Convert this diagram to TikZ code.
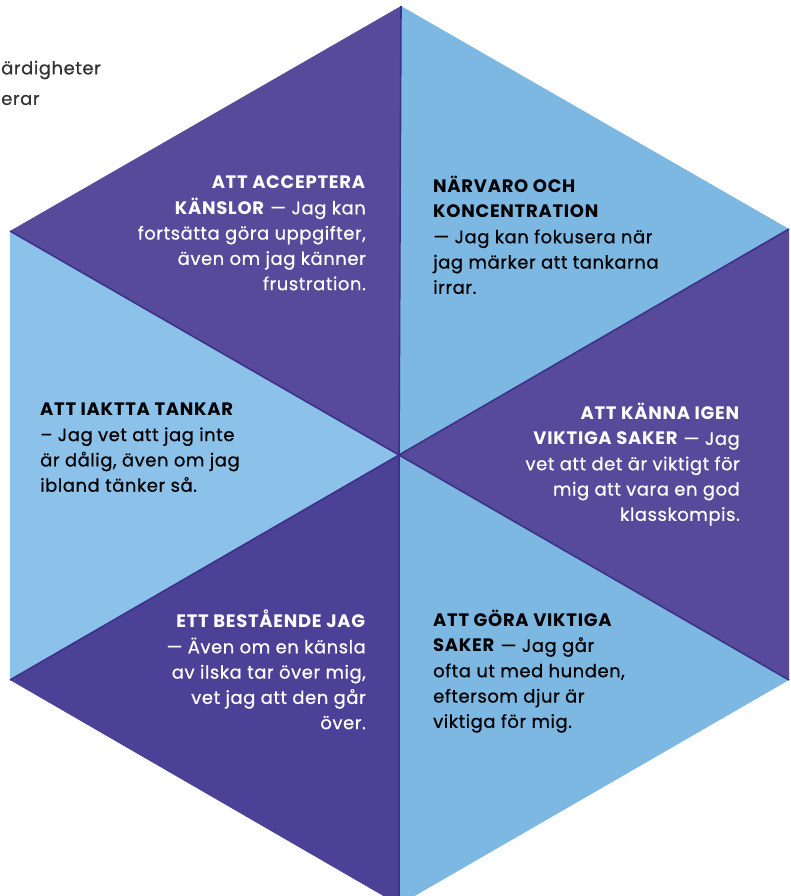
\documentclass[tikz,border=0pt]{standalone}
\usepackage{fontspec}
\setmainfont{Poppins}[UprightFeatures={FakeBold=0.6, LetterSpace=3}, BoldFeatures={LetterSpace=4}]
\definecolor{darkp}{HTML}{574A9A}
\definecolor{darkq}{HTML}{4B4196}
\definecolor{lightb}{HTML}{7DB8E3}
\definecolor{lightc}{HTML}{8CC2EA}
\definecolor{sepc}{HTML}{3B3388}
\definecolor{pagetext}{HTML}{333333}
\tikzset{
  sepline/.style={draw=sepc, line width=1.6pt},
  txt/.style={inner sep=0pt, font=\fontsize{18}{25.3}\selectfont},
  wtxt/.style={txt, text=white},
  btxt/.style={txt, text=black},
}
\begin{document}
\begin{tikzpicture}[x=1pt,y=-1pt]
\useasboundingbox (0,0) rectangle (791,896);
\coordinate (O) at (399,455);
\coordinate (T) at (401,6);
\coordinate (UR) at (789,229);
\coordinate (LR) at (789,680);
\coordinate (B) at (399,905);
\coordinate (LL) at (10,680);
\coordinate (UL) at (10,231);
% triangles
\fill[darkp] (O)--(T)--(UL)--cycle;
\fill[lightb] (O)--(T)--(UR)--cycle;
\fill[darkp] (O)--(UR)--(LR)--cycle;
\fill[lightb] (O)--(LR)--(B)--cycle;
\fill[darkq] (O)--(B)--(LL)--cycle;
\fill[lightc] (O)--(LL)--(UL)--cycle;
% separators
\draw[sepline] (O)--(T);
\draw[sepline] (O)--(UR);
\draw[sepline] (O)--(LR);
\draw[sepline] (O)--(B);
\draw[sepline] (O)--(LL);
\draw[sepline] (O)--(UL);
% page text
\node[txt, text=pagetext, anchor=west] (p1) at (1,70) {ärdigheter};
\node[txt, text=pagetext, anchor=west] (p2) at (1,100) {erar};
% texts
\node[wtxt, anchor=north east, align=right] (t1) at (366,176)
 {\textbf{ATT ACCEPTERA}\\\textbf{KÄNSLOR} — Jag kan\\fortsätta göra uppgifter,\\även om jag känner\\frustration.};
\node[btxt, anchor=north west, align=left] (t2) at (433,176)
 {\textbf{NÄRVARO OCH}\\\textbf{KONCENTRATION}\\— Jag kan fokusera när\\jag märker att tankarna\\irrar.};
\node[btxt, anchor=north west, align=left] (t3) at (40,403)
 {\textbf{ATT IAKTTA TANKAR}\\– Jag vet att jag inte\\är dålig, även om jag\\ibland tänker så.};
\node[wtxt, anchor=north east, align=right] (t4) at (740,403)
 {\textbf{ATT KÄNNA IGEN}\\\textbf{VIKTIGA SAKER} — Jag\\vet att det är viktigt för\\mig att vara en god\\klasskompis.};
\node[wtxt, anchor=north east, align=right] (t5) at (366,610)
 {\textbf{ETT BESTÅENDE JAG}\\— Även om en känsla\\av ilska tar över mig,\\vet jag att den går\\över.};
\node[btxt, anchor=north west, align=left] (t6) at (433,610)
 {\textbf{ATT GÖRA VIKTIGA}\\\textbf{SAKER} — Jag går\\ofta ut med hunden,\\eftersom djur är\\viktiga för mig.};
\end{tikzpicture}
\end{document}
